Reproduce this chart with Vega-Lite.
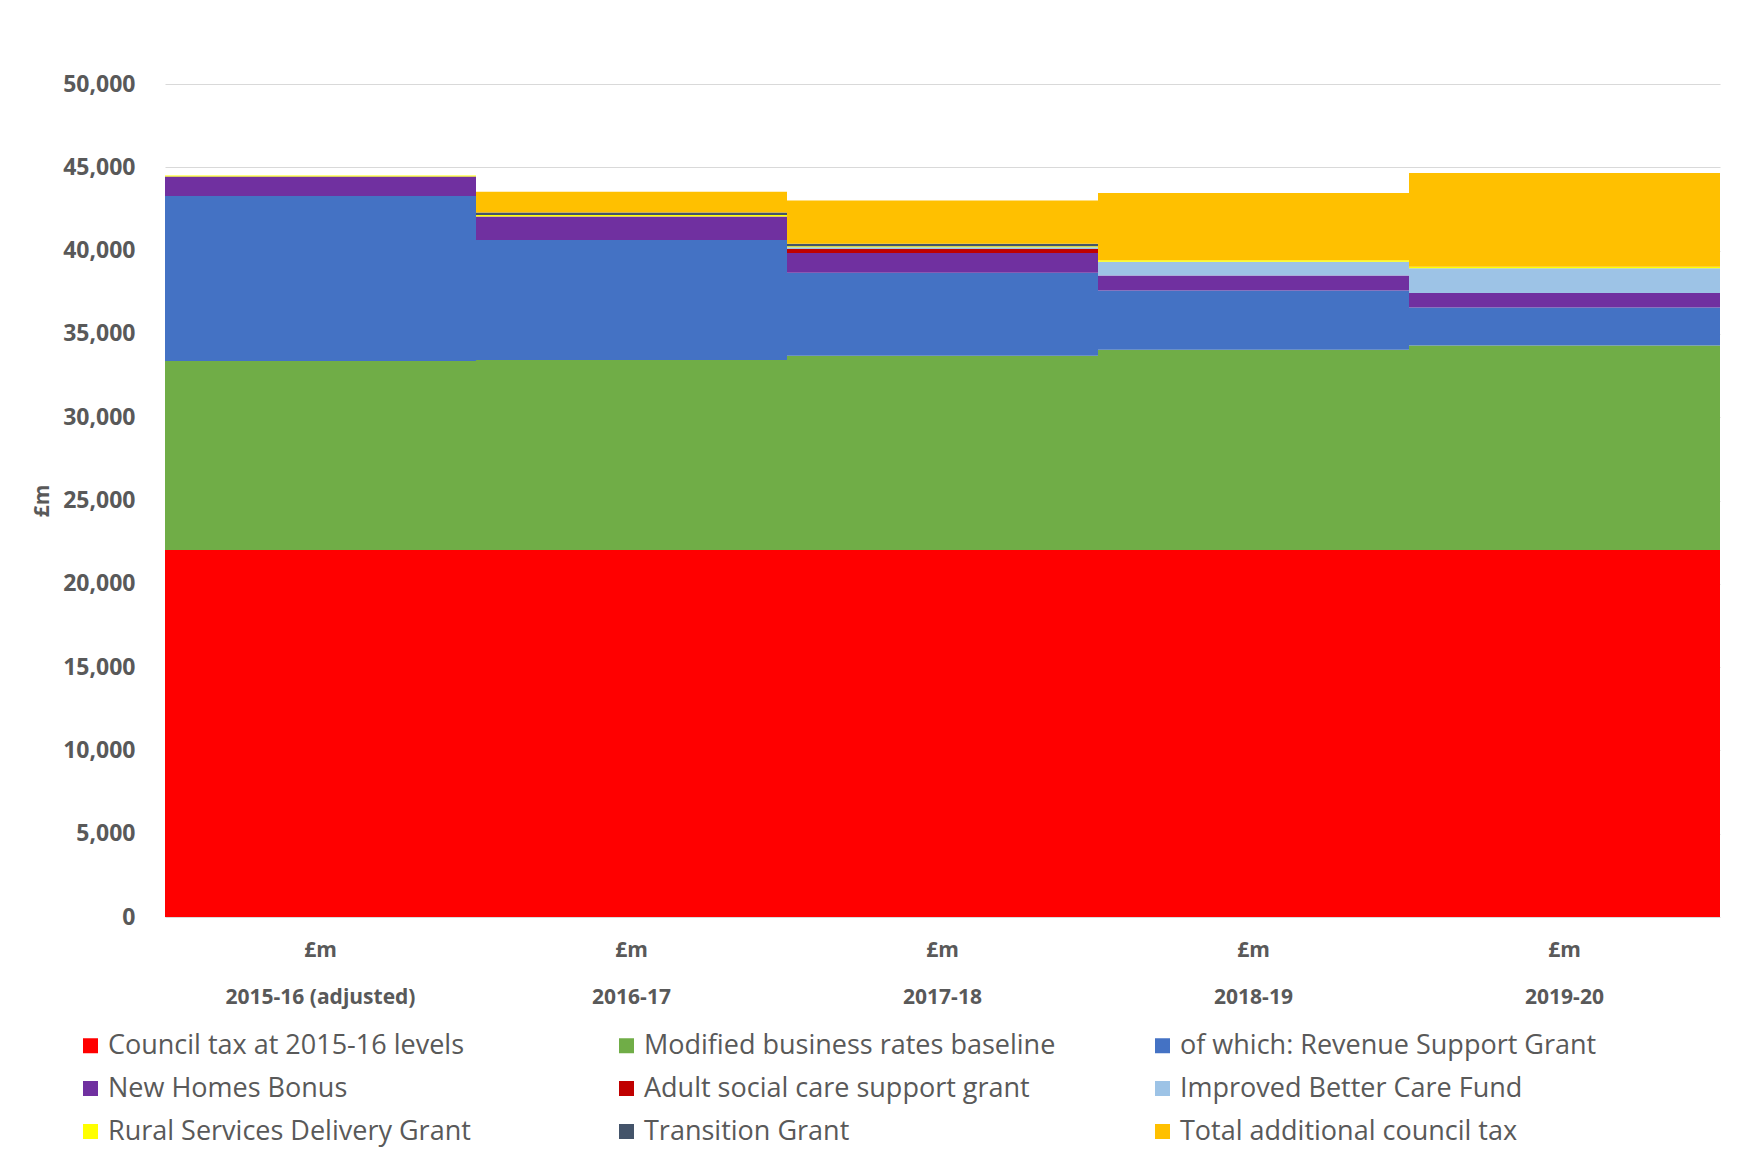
{
  "$schema": "https://vega.github.io/schema/vega-lite/v6.json",
  "width": 1555,
  "height": 833,
  "autosize": {"type": "none"},
  "padding": {"left": 165, "top": 84, "right": 21, "bottom": 244},
  "background": "white",
  "data": {
    "values": [
      {"year": "2015-16 (adjusted)", "source": "Council tax at 2015-16 levels", "value": 22036},
      {"year": "2015-16 (adjusted)", "source": "Modified business rates baseline", "value": 11335},
      {"year": "2015-16 (adjusted)", "source": "of which: Revenue Support Grant", "value": 9903},
      {"year": "2015-16 (adjusted)", "source": "New Homes Bonus", "value": 1180},
      {"year": "2015-16 (adjusted)", "source": "Rural Services Delivery Grant", "value": 60},

      {"year": "2016-17", "source": "Council tax at 2015-16 levels", "value": 22036},
      {"year": "2016-17", "source": "Modified business rates baseline", "value": 11395},
      {"year": "2016-17", "source": "of which: Revenue Support Grant", "value": 7203},
      {"year": "2016-17", "source": "New Homes Bonus", "value": 1416},
      {"year": "2016-17", "source": "Rural Services Delivery Grant", "value": 80},
      {"year": "2016-17", "source": "Transition Grant", "value": 150},
      {"year": "2016-17", "source": "Total additional council tax", "value": 1252},

      {"year": "2017-18", "source": "Council tax at 2015-16 levels", "value": 22036},
      {"year": "2017-18", "source": "Modified business rates baseline", "value": 11653},
      {"year": "2017-18", "source": "of which: Revenue Support Grant", "value": 4982},
      {"year": "2017-18", "source": "New Homes Bonus", "value": 1180},
      {"year": "2017-18", "source": "Adult social care support grant", "value": 241},
      {"year": "2017-18", "source": "Improved Better Care Fund", "value": 105},
      {"year": "2017-18", "source": "Rural Services Delivery Grant", "value": 65},
      {"year": "2017-18", "source": "Transition Grant", "value": 150},
      {"year": "2017-18", "source": "Total additional council tax", "value": 2598},

      {"year": "2018-19", "source": "Council tax at 2015-16 levels", "value": 22036},
      {"year": "2018-19", "source": "Modified business rates baseline", "value": 12014},
      {"year": "2018-19", "source": "of which: Revenue Support Grant", "value": 3559},
      {"year": "2018-19", "source": "New Homes Bonus", "value": 900},
      {"year": "2018-19", "source": "Improved Better Care Fund", "value": 825},
      {"year": "2018-19", "source": "Rural Services Delivery Grant", "value": 81},
      {"year": "2018-19", "source": "Total additional council tax", "value": 4039},

      {"year": "2019-20", "source": "Council tax at 2015-16 levels", "value": 22036},
      {"year": "2019-20", "source": "Modified business rates baseline", "value": 12271},
      {"year": "2019-20", "source": "of which: Revenue Support Grant", "value": 2281},
      {"year": "2019-20", "source": "New Homes Bonus", "value": 860},
      {"year": "2019-20", "source": "Improved Better Care Fund", "value": 1500},
      {"year": "2019-20", "source": "Rural Services Delivery Grant", "value": 81},
      {"year": "2019-20", "source": "Total additional council tax", "value": 5626}
    ]
  },
  "transform": [
    {
      "calculate": "indexof(['Council tax at 2015-16 levels', 'Modified business rates baseline', 'of which: Revenue Support Grant', 'New Homes Bonus', 'Adult social care support grant', 'Improved Better Care Fund', 'Rural Services Delivery Grant', 'Transition Grant', 'Total additional council tax'], datum.source)",
      "as": "layer"
    }
  ],
  "mark": {"type": "bar"},
  "encoding": {
    "x": {
      "field": "year",
      "type": "nominal",
      "sort": ["2015-16 (adjusted)", "2016-17", "2017-18", "2018-19", "2019-20"],
      "scale": {"paddingInner": 0, "paddingOuter": 0},
      "axis": {
        "title": null,
        "domain": false,
        "ticks": false,
        "labelAngle": 0,
        "labelExpr": "['£m', datum.label]",
        "labelLineHeight": 47,
        "labelFont": "Open Sans",
        "labelFontSize": 21,
        "labelFontWeight": "bold",
        "labelColor": "#595959",
        "labelBaseline": "top",
        "labelPadding": 22,
        "labelLimit": 0
      }
    },
    "y": {
      "field": "value",
      "type": "quantitative",
      "stack": "zero",
      "scale": {"domain": [0, 50000], "nice": false},
      "axis": {
        "values": [0, 5000, 10000, 15000, 20000, 25000, 30000, 35000, 40000, 45000, 50000],
        "format": ",d",
        "domain": false,
        "ticks": false,
        "grid": true,
        "gridColor": "#D9D9D9",
        "gridWidth": 1,
        "labelFont": "Open Sans",
        "labelFontSize": 23,
        "labelFontWeight": "bold",
        "labelColor": "#595959",
        "labelPadding": 30,
        "title": "£m",
        "titleFont": "Open Sans",
        "titleFontSize": 21,
        "titleFontWeight": "bold",
        "titleColor": "#595959",
        "titlePadding": 10
      }
    },
    "order": {"field": "layer", "type": "quantitative", "sort": "ascending"},
    "color": {
      "field": "source",
      "type": "nominal",
      "scale": {
        "domain": [
          "Council tax at 2015-16 levels",
          "Modified business rates baseline",
          "of which: Revenue Support Grant",
          "New Homes Bonus",
          "Adult social care support grant",
          "Improved Better Care Fund",
          "Rural Services Delivery Grant",
          "Transition Grant",
          "Total additional council tax"
        ],
        "range": ["#FF0000", "#70AD47", "#4472C4", "#7030A0", "#C00000", "#9DC3E6", "#FFFF00", "#44546A", "#FFC000"]
      },
      "legend": {
        "title": null,
        "orient": "none",
        "legendX": -88,
        "legendY": 948,
        "direction": "horizontal",
        "columns": 3,
        "gridAlign": "all",
        "columnPadding": 88,
        "rowPadding": 15,
        "padding": 0,
        "symbolType": "square",
        "symbolSize": 225,
        "symbolStrokeWidth": 0,
        "labelFont": "Open Sans",
        "labelFontSize": 27,
        "labelColor": "#595959",
        "labelOffset": 4,
        "labelLimit": 0
      }
    }
  },
  "config": {"view": {"stroke": null}}
}
